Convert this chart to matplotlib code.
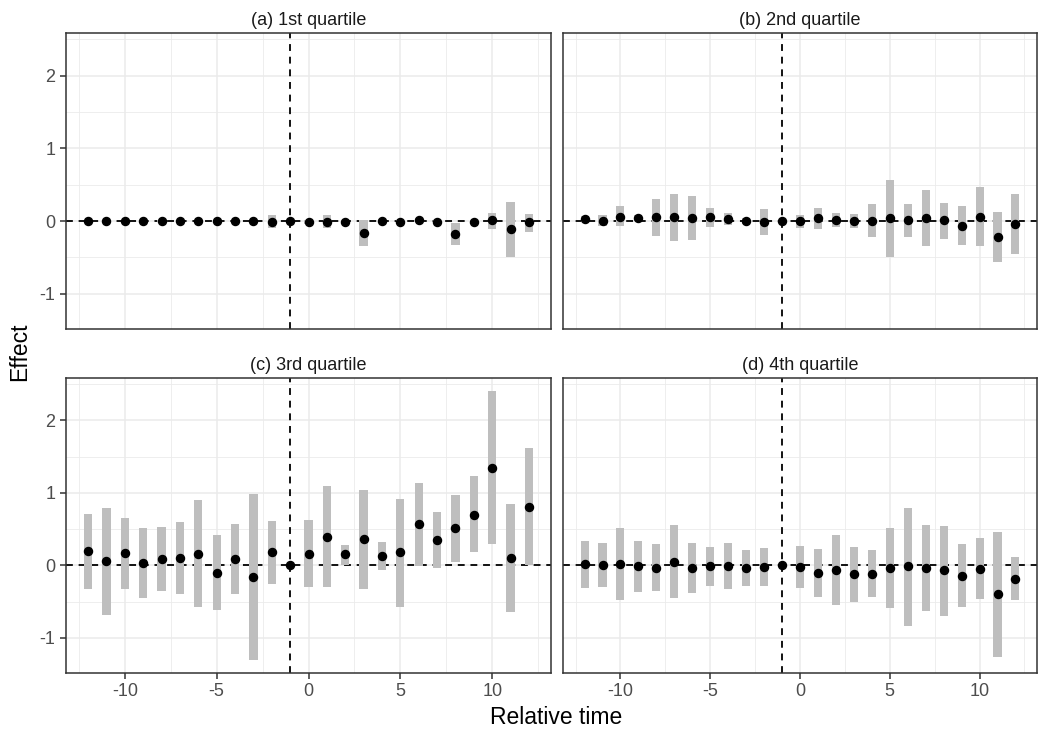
import numpy as np
import matplotlib.pyplot as plt
from matplotlib.ticker import MultipleLocator

plt.rcParams['font.family'] = ['Liberation Sans', 'DejaVu Sans']
plt.rcParams['axes.unicode_minus'] = False

# Data
rel_time = list(range(-12, 13))
titles = ["(a) 1st quartile", "(b) 2nd quartile", "(c) 3rd quartile", "(d) 4th quartile"]

est_a = [0, 0, 0, 0, 0, 0, 0, 0, 0, 0, -0.02, 0, -0.01, -0.01, -0.01, -0.16, 0.0, -0.01, 0.01, -0.01, -0.18, -0.01, 0.01, -0.11, -0.02]
lo_a = [-0.02, -0.02, -0.02, -0.02, -0.02, -0.02, -0.02, -0.02, -0.02, -0.02, -0.10, 0, -0.04, -0.10, -0.04, -0.34, -0.03, -0.04, -0.02, -0.04, -0.33, -0.04, -0.11, -0.49, -0.15]
hi_a = [0.02, 0.02, 0.02, 0.02, 0.02, 0.02, 0.02, 0.02, 0.02, 0.02, 0.08, 0, 0.02, 0.08, 0.02, 0.01, 0.03, 0.02, 0.04, 0.02, -0.03, 0.02, 0.11, 0.26, 0.09]

est_b = [0.03, 0.005, 0.06, 0.04, 0.05, 0.055, 0.04, 0.055, 0.03, 0.0, -0.01, 0, 0.005, 0.04, 0.015, -0.005, 0.005, 0.04, 0.015, 0.04, 0.01, -0.065, 0.06, -0.215, -0.04]
lo_b = [-0.01, -0.07, -0.07, 0.0, -0.20, -0.27, -0.26, -0.08, -0.05, -0.04, -0.19, 0, -0.09, -0.105, -0.08, -0.09, -0.22, -0.50, -0.22, -0.34, -0.25, -0.33, -0.34, -0.56, -0.46]
hi_b = [0.07, 0.08, 0.20, 0.08, 0.30, 0.37, 0.34, 0.18, 0.11, 0.04, 0.17, 0, 0.08, 0.18, 0.11, 0.09, 0.24, 0.57, 0.24, 0.42, 0.25, 0.21, 0.47, 0.13, 0.37]

est_c = [0.20, 0.06, 0.17, 0.03, 0.09, 0.105, 0.16, -0.10, 0.09, -0.16, 0.18, 0, 0.155, 0.39, 0.15, 0.36, 0.13, 0.18, 0.57, 0.35, 0.51, 0.70, 1.35, 0.10, 0.81]
lo_c = [-0.32, -0.68, -0.32, -0.45, -0.35, -0.39, -0.57, -0.61, -0.40, -1.30, -0.26, 0, -0.30, -0.30, 0.0, -0.32, -0.07, -0.57, -0.01, -0.04, 0.04, 0.18, 0.29, -0.64, 0.0]
hi_c = [0.71, 0.79, 0.65, 0.52, 0.53, 0.60, 0.90, 0.42, 0.57, 0.99, 0.61, 0, 0.62, 1.09, 0.28, 1.04, 0.32, 0.91, 1.14, 0.74, 0.97, 1.23, 2.40, 0.84, 1.62]

est_d = [0.02, 0.005, 0.02, -0.01, -0.03, 0.05, -0.04, -0.01, -0.01, -0.04, -0.02, 0, -0.02, -0.105, -0.06, -0.12, -0.12, -0.04, -0.01, -0.04, -0.07, -0.14, -0.05, -0.40, -0.19]
lo_d = [-0.31, -0.30, -0.48, -0.37, -0.36, -0.45, -0.38, -0.28, -0.33, -0.28, -0.28, 0, -0.31, -0.43, -0.54, -0.50, -0.44, -0.59, -0.83, -0.63, -0.70, -0.58, -0.47, -1.26, -0.48]
hi_d = [0.34, 0.31, 0.52, 0.33, 0.30, 0.56, 0.31, 0.26, 0.31, 0.21, 0.24, 0, 0.27, 0.22, 0.42, 0.26, 0.21, 0.52, 0.79, 0.56, 0.55, 0.30, 0.38, 0.46, 0.11]

panels = [(est_a, lo_a, hi_a), (est_b, lo_b, hi_b), (est_c, lo_c, hi_c), (est_d, lo_d, hi_d)]

# Layout in pixels
W, H = 1039, 734
lefts = [66, 563]
rights = [551, 1037]
tops = [33, 378]
bottoms = [329, 673]

fig = plt.figure(figsize=(W / 100, H / 100), dpi=100)

x = np.array(rel_time)
for i, (est, lo, hi) in enumerate(panels):
    r, c = divmod(i, 2)
    rect = [lefts[c] / W, 1 - bottoms[r] / H, (rights[c] - lefts[c]) / W, (bottoms[r] - tops[r]) / H]
    ax = fig.add_axes(rect)
    lo = np.array(lo)
    hi = np.array(hi)

    ax.axhline(0, color='black', lw=1.3, ls=(0, (3.8, 3.2)), zorder=2)
    ax.axvline(-1, color='black', lw=1.3, ls=(0, (3.8, 3.2)), zorder=2)
    ax.bar(x, hi - lo, bottom=lo, width=0.45, color='#BEBEBE', zorder=3)
    ax.plot(x, est, 'o', color='black', ms=5.8, zorder=4)

    ax.set_xlim(-13.2, 13.2)
    ax.set_ylim(-1.485, 2.585)
    ax.xaxis.set_major_locator(MultipleLocator(5))
    ax.xaxis.set_minor_locator(MultipleLocator(2.5))
    ax.yaxis.set_major_locator(MultipleLocator(1))
    ax.yaxis.set_minor_locator(MultipleLocator(0.5))
    ax.grid(which='major', color='#EBEBEB', lw=1.1, zorder=0)
    ax.grid(which='minor', color='#EBEBEB', lw=0.6, zorder=0)
    ax.set_axisbelow(True)
    for s in ax.spines.values():
        s.set_color('#333333')
        s.set_linewidth(1.1)

    ax.tick_params(which='minor', length=0)
    ax.tick_params(which='major', length=4, width=1.1, color='#333333',
                   labelsize=13, labelcolor='#4D4D4D')
    if r == 0:
        ax.tick_params(axis='x', length=0, labelbottom=False)
    if c == 1:
        ax.tick_params(axis='y', length=0, labelleft=False)

    ax.set_title(titles[i], fontsize=13, color='#1A1A1A', pad=6)

fig.text(556 / W, 1 - 718 / H, "Relative time", ha='center', va='center', fontsize=16.5)
fig.text(20 / W, 1 - 352 / H, "Effect", ha='center', va='center', rotation=90, fontsize=16.5)

fig.savefig("out.png", dpi=100)
